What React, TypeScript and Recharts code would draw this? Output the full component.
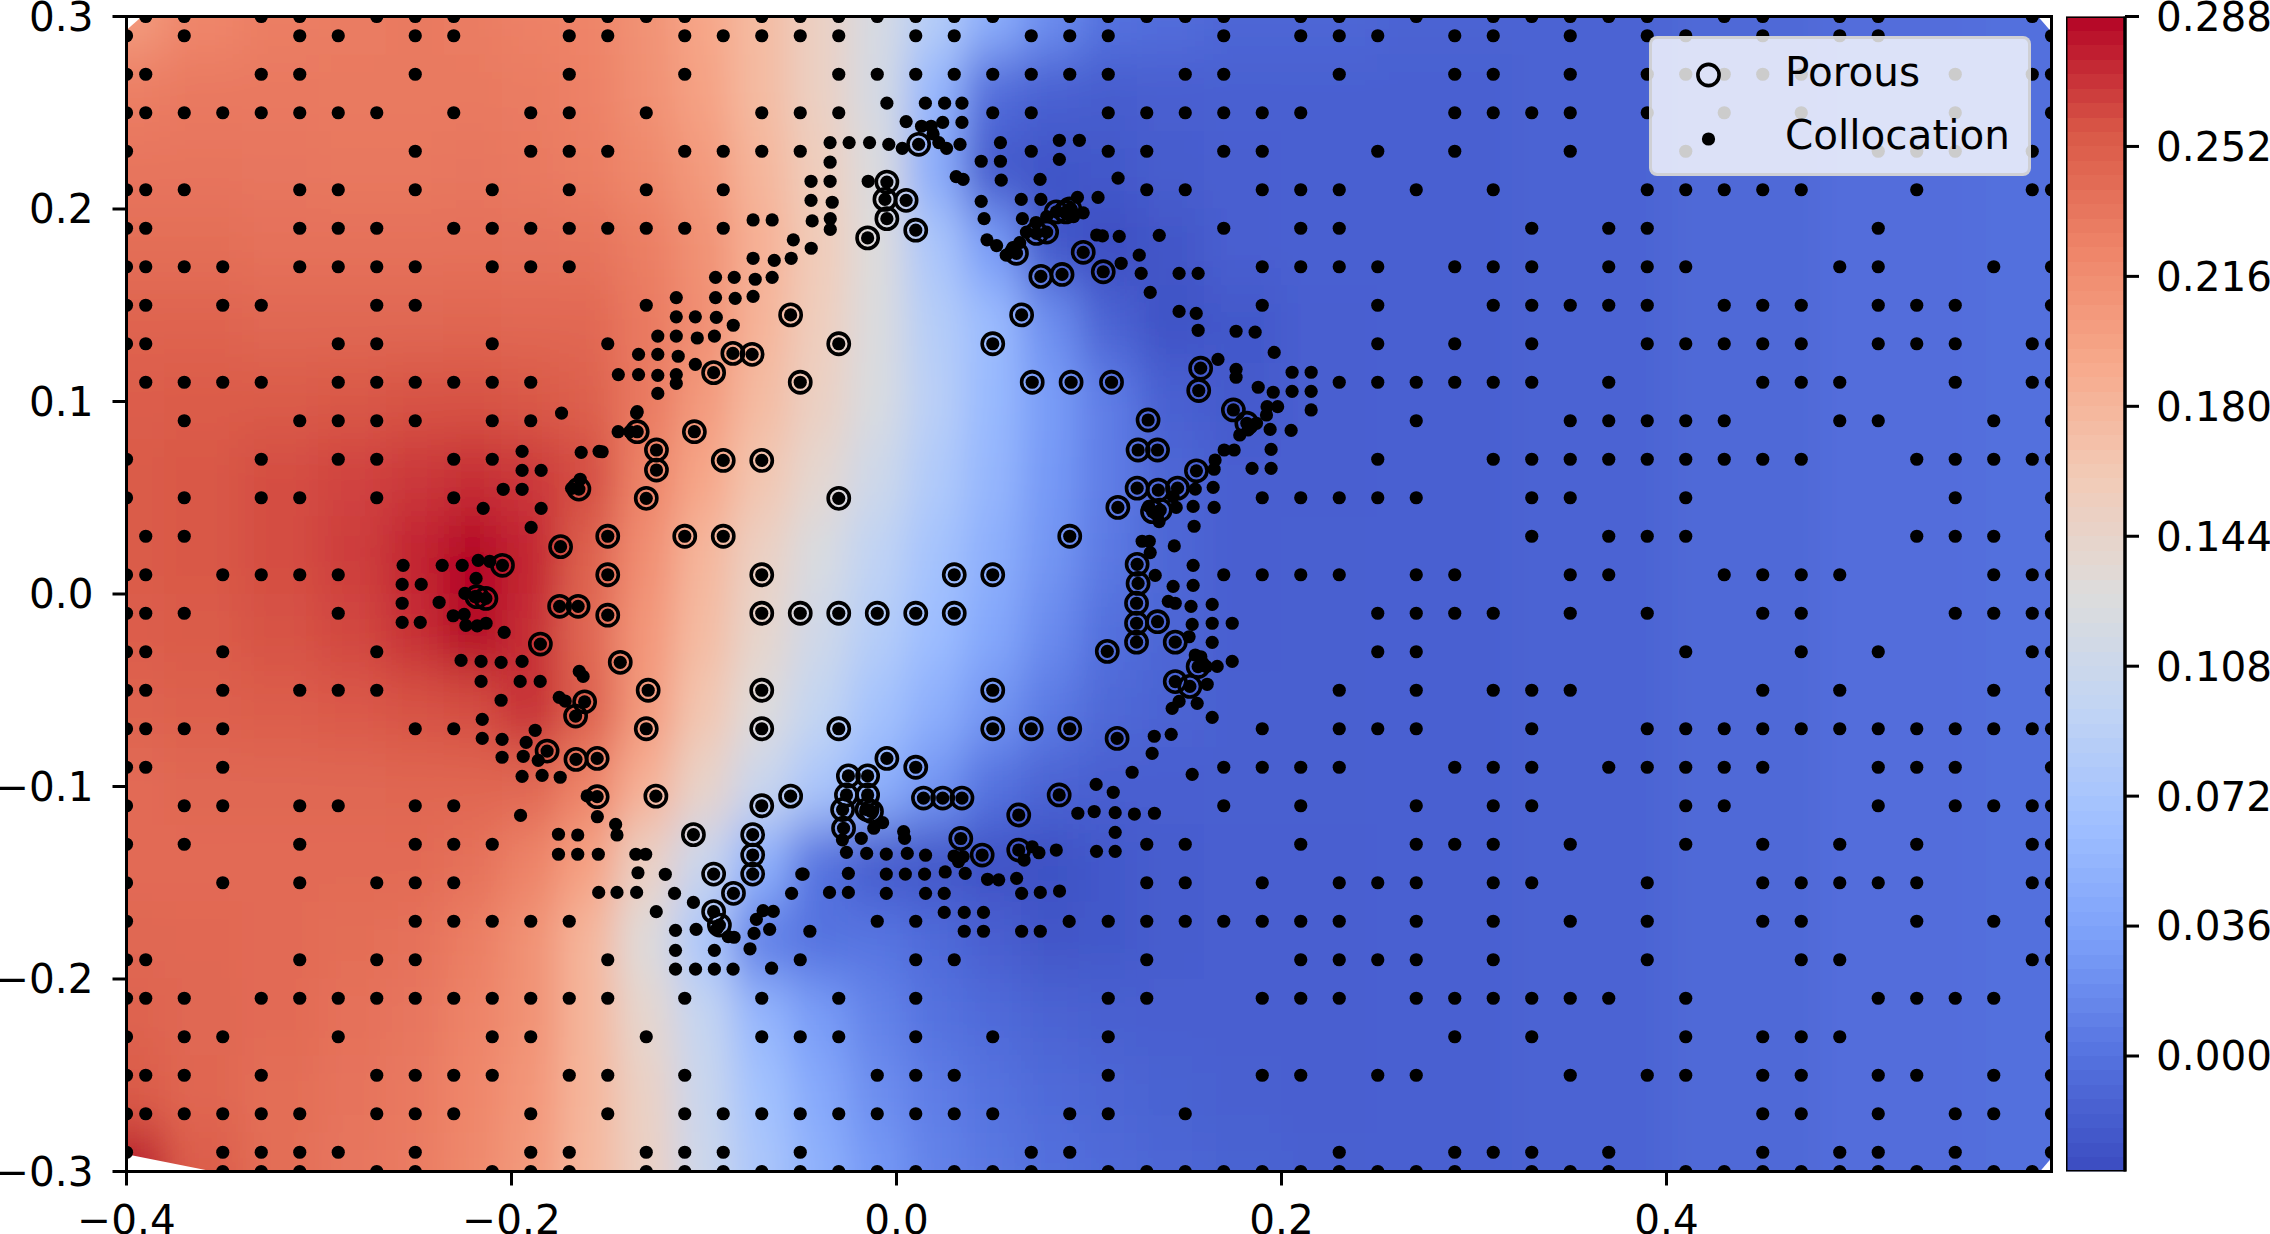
import { Bar, BarChart, Legend, ReferenceArea, Scatter, ScatterChart, XAxis, YAxis } from 'recharts';

// collocation points sitting on the regular grid, x in hundredths, one list per row
const row30 = [-39,-37,-33,-31,-27,-25,-23,-17,-15,-13,-11,-7,-5,-3,-1,1,3,5,9,11,13,15,17,21,23,27,31,33,35,37,39,43,45,49,51,59];
const row29 = [-40,-37,-31,-29,-25,-23,-17,-15,-11,-9,-7,-5,-3,1,3,7,9,11,17,21,23,25,29,31,35,39,41,45,49,51,60];
const row27 = [-40,-39,-33,-31,-25,-17,-11,-3,-1,1,3,5,7,9,11,15,17,23,29,31,35,39,41,43,45,47,55,59,60];
const row25 = [-40,-39,-37,-35,-33,-31,-29,-27,-23,-19,-17,-13,-7,-5,-3,5,7,11,13,15,17,19,21,29,31,33,35,39,43,47,55,60];
const row23 = [-40,-25,-19,-17,-15,-11,-9,-7,-5,7,11,13,17,19,25,29,35,41,51,53,55,59];
const row21 = [-40,-39,-37,-31,-29,-25,-21,-17,-13,-9,13,15,19,21,23,27,31,39,41,43,45,47,53,59,60];
const row19 = [-40,-39,-31,-29,-27,-23,-21,-19,-17,-15,-13,-11,-9,17,21,23,33,37,39,51];
const row17 = [-40,-39,-37,-35,-31,-29,-27,-25,-21,-19,-17,19,21,23,25,29,31,33,37,39,41,49,51,57,60];
const row15 = [-40,-39,-35,-33,-27,-25,-13,19,25,31,33,35,37,39,43,45,47,51,53,55,60];
const row13 = [-40,-39,-29,-27,-21,-15,25,29,33,39,41,43,45,47,51,53,55,59,60];
const row11 = [-39,-37,-35,-33,-29,-27,-25,-23,-21,-19,23,25,27,29,31,33,37,45,47,49,55,59,60];
const row09 = [-37,-31,-29,-27,-25,-21,-19,27,35,37,39,41,43,49,51,57,60];
const row07 = [-40,-33,-29,-27,-23,-21,25,31,33,35,37,39,41,43,45,47,53,55,57,59,60];
const row05 = [-40,-37,-33,-31,-27,-23,19,21,23,25,27,33,35,41,55,60];
const row03 = [-39,-37,33,37,39,41,53,55,57,60];
const row01 = [-40,-39,-35,-33,-31,-29,17,19,21,23,27,29,35,37,43,45,47,49,57,59,60];
const rowM01 = [-40,-39,-37,-29,25,27,29,31,35,39,45,47,55,57,59,60];
const rowM03 = [-40,-39,-35,-27,25,27,41,47,51,59,60];
const rowM05 = [-40,-39,-35,-31,-29,-27,23,27,31,33,35,45,49,57,60];
const rowM07 = [-40,-39,-37,-35,-25,-23,19,23,25,27,33,39,41,43,45,47,49,51,53,55,57,59,60];
const rowM09 = [-40,-39,-35,17,19,21,23,29,31,33,37,39,41,43,45,51,53,55,60];
const rowM11 = [-40,-37,-35,-31,-29,-25,-23,17,21,27,31,33,41,43,51,55,57,59,60];
const rowM13 = [-40,-37,-31,-25,-23,-21,13,15,21,27,29,31,35,41,45,49,53,59,60];
const rowM15 = [-40,-35,-31,-27,-25,-23,13,15,19,23,25,27,31,33,39,45,47,49,51,53,59,60];
const rowM17 = [-40,-25,-23,-21,-19,-17,-1,1,11,13,15,17,19,21,23,27,31,35,39,45,47,53,57,60];
const rowM19 = [-40,-39,-31,-27,-25,-15,-5,1,3,13,21,23,25,27,31,39,47,49,59,60];
const rowM21 = [-40,-39,-37,-33,-31,-29,-27,-25,-23,-21,-19,-17,-15,-11,-7,-3,1,11,13,19,21,23,27,29,31,33,35,37,41,51,53,55,57];
const rowM23 = [-40,-37,-35,-29,-21,-19,-13,-7,-5,-3,1,5,11,29,33,41,45,47,49,60];
const rowM25 = [-40,-39,-37,-33,-27,-25,-23,-21,-17,-15,-11,-1,1,3,11,19,21,25,27,35,39,41,45,47,51,53,57,60];
const rowM27 = [-40,-39,-37,-35,-33,-31,-27,-25,-23,-19,-15,-11,-9,-7,-5,-3,-1,1,3,5,9,11,15,45,47,51,55,57,60];
const rowM29 = [-40,-35,-33,-31,-29,-25,-19,-17,-13,-11,-9,-5,7,9,23,29,31,33,37,45,49,51,55,60];
const rowM30 = [-35,-33,-31,-27,-25,-21,-19,-17,-13,-11,-9,-7,-5,-3,-1,1,3,5,7,11,13,15,17,19,21,23,25,27,29,33,35,37,41,43,45,47,49,51,53,55,57,59];

const gridRows: [number, number[]][] = [
  [30, row30], [29, row29], [27, row27], [25, row25], [23, row23], [21, row21], [19, row19], [17, row17],
  [15, row15], [13, row13], [11, row11], [9, row09], [7, row07], [5, row05], [3, row03], [1, row01],
  [-1, rowM01], [-3, rowM03], [-5, rowM05], [-7, rowM07], [-9, rowM09], [-11, rowM11], [-13, rowM13], [-15, rowM15],
  [-17, rowM17], [-19, rowM19], [-21, rowM21], [-23, rowM23], [-25, rowM25], [-27, rowM27], [-29, rowM29], [-30, rowM30],
];

// refined collocation points around the obstacle, [x, y]
const refinedTop = [
  [-.005,.255],[.015,.255],[.025,.255],[.034,.255],[.005,.2454],[.013,.243],[.018,.243],[.024,.245],[.034,.245],
  [-.0345,.2345],[-.0246,.2345],[-.014,.2345],[-.004,.2336],[.003,.2315],[.019,.239],[.022,.2345],[.026,.2315],[.033,.2336],[.054,.2345],[.0846,.2357],[.095,.2357],
  [-.0345,.2243],[.044,.2248],[.054,.2248],[.0846,.2258],[-.0444,.2144],[-.0345,.2144],[-.0147,.2144],[.031,.2168],[.0346,.2154],[.0544,.215],[.0746,.2154],
  [-.0444,.2045],[-.0334,.2035],[.044,.204],[.0648,.205],[.075,.205],[.094,.206],[.1047,.206],
  [-.0745,.1943],[-.0646,.1943],[-.0438,.1938],[-.0344,.195],[-.0344,.1894],[.0455,.195],[.0654,.195],[.097,.198],[.092,.196],
  [-.0536,.184],[-.0443,.1796],[-.0745,.1744],[-.0635,.1733],[-.0547,.1744],[.047,.184],[.052,.181],[.057,.176],[.104,.1865],
  [.0605,.18],[.064,.1825],[.0675,.188],[.0725,.193],[.078,.196],
  [-.094,.1645],[-.0843,.1645],[-.0734,.1635],[-.0646,.1645],[-.1144,.154],[-.094,.154],[-.0838,.1536],[-.0745,.1546],
  [-.1144,.144],[-.1045,.144],[-.0936,.1437],[-.0848,.1396],[-.124,.134],[-.1144,.134],[-.1035,.133],[-.0946,.134],
  [-.134,.1245],[-.124,.1245],[-.1134,.1235],[-.1045,.1193],[-.1445,.114],[-.134,.114],[-.124,.1136],[-.1144,.114],[-.1144,.1094],[-.124,.1042],[-.1347,.0947],
];
const refinedRight = [
  [.1151,.216],[.107,.186],[.1157,.1858],[.1365,.1863],[.1261,.176],[.1167,.1718],[.1271,.1666],[.1468,.1666],[.1567,.1666],[.1318,.1567],[.1468,.1468],[.1557,.1458],
  [.1567,.137],[.1764,.1365],[.1863,.136],[.1962,.1255],[.167,.1219],[.1764,.1167],[.1764,.1126],[.2055,.1152],[.2154,.1152],[.1879,.1074],[.1957,.1048],[.2055,.1053],[.2154,.1053],
  [.1925,.0973],[.198,.0973],[.2154,.0956],[.1922,.093],[.187,.0887],[.1941,.0855],[.205,.085],[.1783,.0826],[.1826,.0852],[.1946,.0751],[.1702,.0748],[.1754,.0748],[.1655,.0696],[.1847,.0653],[.1946,.0653],[.165,.0648],
  [.1552,.0545],[.1645,.0554],[.1541,.0455],[.165,.045],[.1453,.045],[.1437,.0506],[.1546,.0352],[.1364,.0376],[.131,.0455],
  [.1276,.0274],[.1313,.0274],[.1443,.025],[.1318,.0215],[.1541,.0149],[.1344,.0097],[.1541,.0045],[.1437,.004],[.1412,-.0038],[.1448,-.0048],[.153,-.0064],[.164,-.0054],
  [.1536,-.0158],[.164,-.0152],[.1744,-.0152],[.152,-.0222],[.164,-.0251],[.1552,-.0317],[.1581,-.0326],[.1744,-.035],[.1666,-.0376],[.161,-.0377],[.1614,-.0469],[.1562,-.0568],[.1468,-.0558],[.1432,-.0594],[.164,-.0641],
  [.1427,-.0729],[.1339,-.0739],[.1328,-.0828],[.1224,-.0926],[.1536,-.0937],[.1037,-.0989],[.1126,-.103],
];
const refinedBottom = [
  [.0942,-.1139],[.1027,-.113],[.1136,-.1136],[.1236,-.1143],[.134,-.1139],[.1136,-.1238],[.1039,-.1337],[.1136,-.1337],[.083,-.133],[.074,-.1344],[.0705,-.1313],[.0663,-.1382],
  [.0624,-.1477],[.0531,-.1485],[.0473,-.1482],[.065,-.1555],[.0747,-.155],[.0847,-.1543],[.0248,-.1654],[.0352,-.1654],[.0452,-.1654],[.0352,-.1752],[.0452,-.1752],[.065,-.1752],[.0747,-.1752],[.0897,-.1701],
  [-.026,-.1342],[-.0155,-.1347],[-.0053,-.1351],[.0056,-.1347],[.0151,-.1357],[.0299,-.1361],[.0346,-.1364],[.0322,-.139],[.0037,-.1234],[.0042,-.1269],[-.0183,-.1269],[-.0281,-.1277],[-.0118,-.1217],[-.0072,-.1188],
  [.0357,-.1451],[.0253,-.1444],[.0146,-.1455],[.0046,-.1455],[-.0053,-.1455],[-.025,-.1451],[-.0485,-.1455],[-.0348,-.155],[-.025,-.155],[-.0053,-.1555],[.0151,-.1555],[.0248,-.1555],[-.045,-.1752],
  [-.1953,-.115],[-.1554,-.1157],[-.1459,-.1197],[-.1452,-.1252],[-.1756,-.1248],[-.1656,-.1252],[-.1756,-.1352],[-.1656,-.1352],[-.1549,-.1352],[-.1354,-.1352],[-.1303,-.1352],[-.1343,-.1448],[-.1201,-.1456],
  [-.1547,-.155],[-.1452,-.155],[-.135,-.155],[-.1153,-.1555],[-.1055,-.1602],[-.1248,-.165],[-.1148,-.1747],[-.1041,-.1742],[-.0932,-.1737],[-.0874,-.178],[-.0844,-.1783],[-.074,-.1763],[-.0659,-.1742],[-.0728,-.169],[-.0693,-.1645],[-.064,-.1649],[-.0545,-.1555],[-.0492,-.1455],
  [-.0761,-.1843],[-.0946,-.1851],[-.1148,-.1851],[-.1148,-.1949],[-.1044,-.1949],[-.0946,-.1949],[-.0849,-.1949],[-.0649,-.1944],
];
const refinedLeft = [
  [-.1638,.0736],[-.1545,.0741],[-.1945,.0741],[-.1945,.0642],[-.1846,.0642],[-.1945,.0544],[-.2043,.0544],[-.2147,.0445],[-.1846,.0445],[-.1898,.0346],[-.1643,.0596],[-.1688,.0549],[-.174,.094],[-.135,.094],[-.1446,.0843],[-.1386,.0843],[-.1529,.0739],
  [-.2563,.0149],[-.236,.0149],[-.2256,.0149],[-.2173,.0175],[-.2113,.017],[-.2184,.0081],[-.2568,.005],[-.2469,.005],[-.2568,-.0048],[-.2376,-.0043],[-.2242,.0003],[-.219,-.0014],[-.2303,-.0113],[-.2246,-.0106],[-.2568,-.0147],[-.2474,-.0147],[-.2237,-.0163],[-.2178,-.0166],[-.2132,-.0152],[-.2038,-.0199],
  [-.2262,-.0345],[-.2158,-.035],[-.2054,-.0355],[-.1945,-.035],[-.2158,-.0454],[-.1955,-.0454],[-.1851,-.0454],[-.1648,-.0402],[-.1628,-.0428],[-.2054,-.0552],[-.1752,-.0537],[-.1721,-.0556],[-.2152,-.0651],[-.1877,-.0708],[-.2152,-.075],[-.2049,-.0755],[-.1924,-.0771],[-.2049,-.0848],[-.1939,-.0843],[-.1861,-.0864],[-.1945,-.0947],[-.1841,-.0942],[-.1747,-.0952],[-.1607,-.1049],
];

// porous points, each also carries a collocation dot
const porousPoints = [
  [-.005,.214],[-.006,.205],[.005,.2045],[-.005,.195],[.01,.189],[-.015,.185],[-.055,.145],[-.03,.13],[-.085,.125],[-.075,.1245],[-.095,.115],[-.05,.11],[.0115,.2336],
  [.0623,.177],[.0727,.1873],[.078,.188],[.083,.1985],[.088,.1985],[.09,.2],[.075,.165],[.086,.166],[.097,.1775],[.1074,.1674],[.065,.145],[.05,.13],[.0705,.11],[.0907,.11],[.1117,.11],[.158,.1173],[.157,.1057],[.175,.0956],
  [.1307,.0904],[.1255,.0748],[.1356,.0748],[.1558,.064],[.125,.055],[.136,.054],[.146,.055],[.115,.045],[.133,.0428],[.137,.0436],[.125,.0154],[.1255,.0055],[.1247,-.0048],[.1247,-.0152],[.1356,-.0144],[.1247,-.025],[.1448,-.025],[.1095,-.0298],
  [.1567,-.0377],[.1448,-.0455],[.1524,-.048],[.1146,-.075],[.182,.0887],
  [-.1347,.0843],[-.105,.0843],[-.1247,.0748],[-.1247,.0644],[-.09,.0694],[-.07,.0694],[-.13,.0497],[-.03,.0497],[-.15,.03],[-.11,.03],[-.09,.03],[.09,.03],[-.15,.01],[-.07,.01],[.03,.01],[.05,.01],
  [-.15,-.011],[-.07,-.01],[-.05,-.01],[-.03,-.01],[-.01,-.01],[.01,-.01],[.03,-.01],[-.1435,-.0355],[-.129,-.05],[-.07,-.05],[.05,-.05],[-.13,-.07],[-.07,-.07],[-.03,-.07],[.05,-.07],[.07,-.07],[.09,-.07],
  [-.005,-.0854],[.01,-.09],[-.025,-.0945],[-.015,-.0945],[-.026,-.1044],[-.015,-.1044],[.014,-.106],[.024,-.106],[.034,-.106],[.0845,-.1044],[-.055,-.105],[-.07,-.11],[-.125,-.105],[-.1555,-.1053],
  [-.2047,.0149],[-.218,-.0014],[-.2133,-.0023],[-.1745,.0246],[-.175,-.0064],[-.1654,-.0064],[-.185,-.026],[-.165,.0545],[-.162,-.056],[-.1667,-.0634],[-.1815,-.0816],[-.1665,-.0859],[-.1555,-.0854],
  [-.1055,-.125],[-.0747,-.125],[-.0747,-.1356],[-.0747,-.1455],[-.095,-.1455],[-.0847,-.1555],[-.095,-.165],[-.092,-.172],
  [-.028,-.112],[-.0275,-.1217],[-.0153,-.112],[-.013,-.113],[.0334,-.127],[.0445,-.1356],[.0635,-.1148],[.0635,-.133],
];

// background field
const fieldX = [-.40,-.36,-.32,-.28,-.25,-.22,-.19,-.16,-.13,-.10,-.07,-.04,-.01,.02,.05,.08,.11,.14,.18,.22,.28,.36,.44,.52,.60];
const fieldY = [.30,.26,.22,.18,.14,.10,.06,.02,-.02,-.06,-.10,-.14,-.18,-.22,-.26,-.30];
const fieldP30 = [.205,.222,.228,.230,.231,.230,.226,.224,.212,.195,.175,.150,.120,.085,.048,.020,.000,-.004,-.010,-.010,-.012,-.012,-.008,-.004,-.002];
const fieldP26 = [.228,.232,.232,.231,.231,.231,.230,.226,.214,.198,.175,.150,.118,.055,-.005,-.014,-.018,-.016,-.014,-.014,-.014,-.012,-.008,-.004,-.002];
const fieldP22 = [.235,.235,.234,.233,.233,.234,.232,.228,.220,.205,.180,.155,.125,.045,-.020,-.025,-.022,-.018,-.016,-.014,-.014,-.012,-.008,-.004,-.002];
const fieldP18 = [.240,.240,.238,.238,.238,.238,.237,.236,.228,.212,.185,.158,.128,.075,.030,-.022,-.030,-.024,-.016,-.014,-.014,-.012,-.008,-.004,-.002];
const fieldP14 = [.247,.247,.245,.245,.245,.246,.244,.244,.232,.215,.182,.155,.125,.085,.060,.020,-.012,-.026,-.022,-.016,-.014,-.012,-.008,-.004,-.002];
const fieldP10 = [.252,.253,.254,.256,.258,.258,.256,.250,.232,.205,.175,.150,.122,.088,.058,.030,.008,-.014,-.020,-.016,-.014,-.012,-.008,-.004,-.002];
const fieldP06 = [.254,.256,.260,.264,.268,.272,.268,.260,.225,.195,.165,.138,.110,.080,.055,.028,.008,-.010,-.016,-.016,-.014,-.012,-.008,-.004,-.002];
const fieldP02 = [.254,.256,.260,.266,.276,.292,.276,.250,.215,.180,.150,.122,.095,.070,.048,.025,.005,-.010,-.016,-.015,-.014,-.012,-.008,-.004,-.002];
const fieldM02 = [.252,.254,.258,.263,.272,.290,.272,.245,.208,.175,.142,.112,.085,.062,.040,.018,-.002,-.010,-.016,-.015,-.014,-.012,-.008,-.004,-.002];
const fieldM06 = [.248,.250,.252,.255,.258,.260,.272,.250,.205,.165,.130,.098,.070,.048,.025,.006,-.008,-.012,-.015,-.015,-.014,-.012,-.008,-.004,-.002];
const fieldM10 = [.243,.245,.245,.245,.246,.246,.245,.225,.185,.145,.105,.075,.050,.025,.000,-.012,-.016,-.016,-.015,-.015,-.014,-.012,-.008,-.004,-.002];
const fieldM14 = [.243,.243,.242,.242,.242,.238,.225,.200,.150,.105,.050,.000,-.020,-.024,-.026,-.028,-.022,-.018,-.016,-.016,-.014,-.012,-.008,-.004,-.002];
const fieldM18 = [.245,.244,.242,.240,.238,.228,.212,.180,.130,.075,.010,.000,.002,-.006,-.016,-.024,-.022,-.018,-.016,-.016,-.014,-.012,-.008,-.004,-.002];
const fieldM22 = [.248,.245,.242,.238,.234,.225,.212,.180,.140,.100,.055,.030,.012,.000,-.006,-.012,-.015,-.016,-.016,-.016,-.014,-.012,-.008,-.004,-.002];
const fieldM26 = [.254,.246,.240,.236,.232,.222,.208,.180,.148,.105,.068,.042,.020,.008,.000,-.006,-.010,-.013,-.015,-.016,-.014,-.012,-.008,-.004,-.002];
const fieldM30 = [.285,.252,.240,.234,.230,.220,.205,.178,.150,.108,.075,.050,.028,.012,.004,-.002,-.006,-.010,-.013,-.015,-.014,-.012,-.008,-.004,-.002];
const fieldValues = [fieldP30,fieldP26,fieldP22,fieldP18,fieldP14,fieldP10,fieldP06,fieldP02,fieldM02,fieldM06,fieldM10,fieldM14,fieldM18,fieldM22,fieldM26,fieldM30];

const xTicks = [-0.4, -0.2, 0, 0.2, 0.4];
const yTicks = [-0.3, -0.2, -0.1, 0, 0.1, 0.2, 0.3];
const barTicks = [0, 0.036, 0.072, 0.108, 0.144, 0.18, 0.216, 0.252, 0.288];
const barDomain: [number, number] = [-0.032, 0.288];
const coolwarm = ['#3b4cc0', '#5572df', '#7b9ff9', '#9fbfff', '#c1d4f4', '#dddcdc', '#f2cbb7', '#f7a98b', '#ee8468', '#d95847', '#b40426'];

const PX_PER_UNIT = 1925;
const FONT = '"DejaVu Sans"';
const FONT_SIZE = 40.5;
const BAND_COUNT = 80;

const collocation = [
  ...gridRows.flatMap(([y, xs]) => xs.map((x) => ({ x: x / 100, y: y / 100 }))),
  ...[...refinedTop, ...refinedRight, ...refinedBottom, ...refinedLeft, ...porousPoints].map(([x, y]) => ({ x, y })),
];
const porous = porousPoints.map(([x, y]) => ({ x, y }));
const field = fieldY.flatMap((y, r) => fieldX.map((x, c) => ({ x, y, r, c, v: fieldValues[r][c] })));

function hexToRgb(hex: string) {
  return [1, 3, 5].map((i) => parseInt(hex.slice(i, i + 2), 16));
}

function valueColor(v: number) {
  const t = Math.max(0, Math.min(1, (v - barDomain[0]) / (barDomain[1] - barDomain[0]))) * (coolwarm.length - 1);
  const i = Math.min(coolwarm.length - 2, Math.floor(t));
  const a = hexToRgb(coolwarm[i]);
  const b = hexToRgb(coolwarm[i + 1]);
  const mix = a.map((ch, k) => Math.round(ch + (b[k] - ch) * (t - i)));
  return `rgb(${mix.join(',')})`;
}

// one field sample drawn as a rectangle up to the midpoints with its neighbours
function FieldCell(props: any) {
  const { cx, cy, payload } = props;
  const { r, c, v } = payload;
  const left = c === 0 ? 0.05 : (fieldX[c] - fieldX[c - 1]) / 2;
  const right = c === fieldX.length - 1 ? 0.05 : (fieldX[c + 1] - fieldX[c]) / 2;
  const up = r === 0 ? 0.05 : (fieldY[r - 1] - fieldY[r]) / 2;
  const down = r === fieldY.length - 1 ? 0.05 : (fieldY[r] - fieldY[r + 1]) / 2;
  return (
    <rect
      x={cx - left * PX_PER_UNIT - 0.5}
      y={cy - up * PX_PER_UNIT - 0.5}
      width={(left + right) * PX_PER_UNIT + 1}
      height={(up + down) * PX_PER_UNIT + 1}
      fill={valueColor(v)}
    />
  );
}

const Dot = (props: any) => <circle cx={props.cx} cy={props.cy} r={6.6} fill="#000" />;
const Ring = (props: any) => <circle cx={props.cx} cy={props.cy} r={10.6} fill="none" stroke="#000" strokeWidth={3.6} />;

// the contour hull stops short of the plot corners
function Corner(props: any) {
  const { x, y, width: w, height: h, corner } = props;
  const pts = {
    tl: [[x, y], [x + w, y], [x, y + h]],
    tr: [[x, y], [x + w, y], [x + w, y + h]],
    bl: [[x, y], [x, y + h], [x + w, y + h]],
    br: [[x + w, y], [x + w, y + h], [x, y + h]],
  }[corner as 'tl'];
  return <polygon points={pts.map((p) => p.join(',')).join(' ')} fill="#fff" />;
}

function LegendBox() {
  const rows = [
    { label: 'Porous', top: 11, mark: <circle cx={56.5} cy={36} r={10.6} fill="none" stroke="#000" strokeWidth={3.6} /> },
    { label: 'Collocation', top: 74, mark: <circle cx={56.5} cy={100} r={6.6} fill="#000" /> },
  ];
  return (
    <div style={{ position: 'relative', width: 382, height: 140, boxSizing: 'border-box', background: 'rgba(255,255,255,0.8)', border: '3px solid rgba(204,204,204,0.8)', borderRadius: 8, fontFamily: FONT, fontSize: FONT_SIZE, color: '#000' }}>
      <svg width={120} height={134} style={{ position: 'absolute', left: 0, top: 0 }}>
        {rows.map((row) => <g key={row.label}>{row.mark}</g>)}
      </svg>
      {rows.map((row) => (
        <div key={row.label} style={{ position: 'absolute', left: 133, top: row.top, lineHeight: '44px', whiteSpace: 'nowrap' }}>{row.label}</div>
      ))}
    </div>
  );
}

const tickStyle = { fontFamily: FONT, fontSize: FONT_SIZE, fill: '#000' };
const axisStroke = { stroke: '#000', strokeWidth: 3 };
const signed = (v: number, digits: number) => v.toFixed(digits).replace('-', '\u2212');

const barData = [{ name: 'field', range: barDomain }];

export default function App() {
  const stops = [];
  for (let i = 0; i < BAND_COUNT; i++) {
    const color = valueColor(barDomain[1] - ((i + 0.5) / BAND_COUNT) * (barDomain[1] - barDomain[0]));
    stops.push(<stop key={`a${i}`} offset={i / BAND_COUNT} stopColor={color} />);
    stops.push(<stop key={`b${i}`} offset={(i + 1) / BAND_COUNT} stopColor={color} />);
  }
  return (
    <div style={{ position: 'absolute', left: 0, top: 0, width: 2270, height: 1234, background: '#fff', overflow: 'hidden' }}>
      <style>{`.field-layer{filter:url(#fieldBlur)}`}</style>
      <div style={{ position: 'absolute', left: 0, top: 0 }}>
        <ScatterChart width={2270} height={1234} margin={{ top: 16.5, right: 218.5, bottom: 12.5, left: 56.5 }}>
          <defs>
            <filter id="fieldBlur" filterUnits="userSpaceOnUse" x={0} y={0} width={2270} height={1234}>
              <feGaussianBlur stdDeviation="18 27" />
            </filter>
          </defs>
          <XAxis
            type="number"
            dataKey="x"
            domain={[-0.4, 0.6]}
            ticks={xTicks}
            interval={0}
            allowDataOverflow
            height={50}
            tick={tickStyle}
            tickSize={14}
            tickMargin={20}
            tickFormatter={(v: number) => signed(v, 1)}
            axisLine={axisStroke}
            tickLine={axisStroke}
          />
          <YAxis
            type="number"
            dataKey="y"
            domain={[-0.3, 0.3]}
            ticks={yTicks}
            interval={0}
            allowDataOverflow
            width={70}
            tick={tickStyle}
            tickSize={14}
            tickMargin={19}
            tickFormatter={(v: number) => signed(v, 1)}
            axisLine={axisStroke}
            tickLine={axisStroke}
          />
          <Scatter className="field-layer" data={field} shape={FieldCell} legendType="none" isAnimationActive={false} zIndex={10} />
          <ReferenceArea x1={-0.4} x2={-0.392} y1={0.293} y2={0.3} shape={(p: any) => <Corner {...p} corner="tl" />} zIndex={20} />
          <ReferenceArea x1={0.593} x2={0.6} y1={0.292} y2={0.3} shape={(p: any) => <Corner {...p} corner="tr" />} zIndex={20} />
          <ReferenceArea x1={-0.4} x2={-0.355} y1={-0.3} y2={-0.291} shape={(p: any) => <Corner {...p} corner="bl" />} zIndex={20} />
          <ReferenceArea x1={0.594} x2={0.6} y1={-0.3} y2={-0.293} shape={(p: any) => <Corner {...p} corner="br" />} zIndex={20} />
          <Scatter name="Porous" data={porous} shape={Ring} isAnimationActive={false} />
          <Scatter name="Collocation" data={collocation} shape={Dot} isAnimationActive={false} />
          <ReferenceArea x1={-0.4} x2={0.6} y1={-0.3} y2={0.3} fill="none" fillOpacity={0} stroke="#000" strokeWidth={3} zIndex={900} />
          <Legend
            layout="vertical"
            align="center"
            verticalAlign="middle"
            wrapperStyle={{ left: 1649, top: 36, width: 382, height: 140 }}
            content={() => <LegendBox />}
          />
        </ScatterChart>
      </div>
      <div style={{ position: 'absolute', left: 2066, top: 0 }}>
        <BarChart width={204} height={1234} data={barData} barCategoryGap={0} margin={{ top: 16.5, right: 0, bottom: 62.5, left: 0 }}>
          <defs>
            <linearGradient id="barRamp" x1="0" y1="0" x2="0" y2="1">{stops}</linearGradient>
          </defs>
          <XAxis dataKey="name" hide />
          <YAxis
            orientation="right"
            type="number"
            domain={barDomain}
            ticks={barTicks}
            interval={0}
            allowDataOverflow
            width={145}
            tick={{ ...tickStyle, textAnchor: 'start' }}
            tickSize={14}
            tickMargin={17}
            tickFormatter={(v: number) => signed(v, 3)}
            axisLine={axisStroke}
            tickLine={axisStroke}
          />
          <Bar dataKey="range" fill="url(#barRamp)" stroke="#000" strokeWidth={3} isAnimationActive={false} />
        </BarChart>
      </div>
    </div>
  );
}
